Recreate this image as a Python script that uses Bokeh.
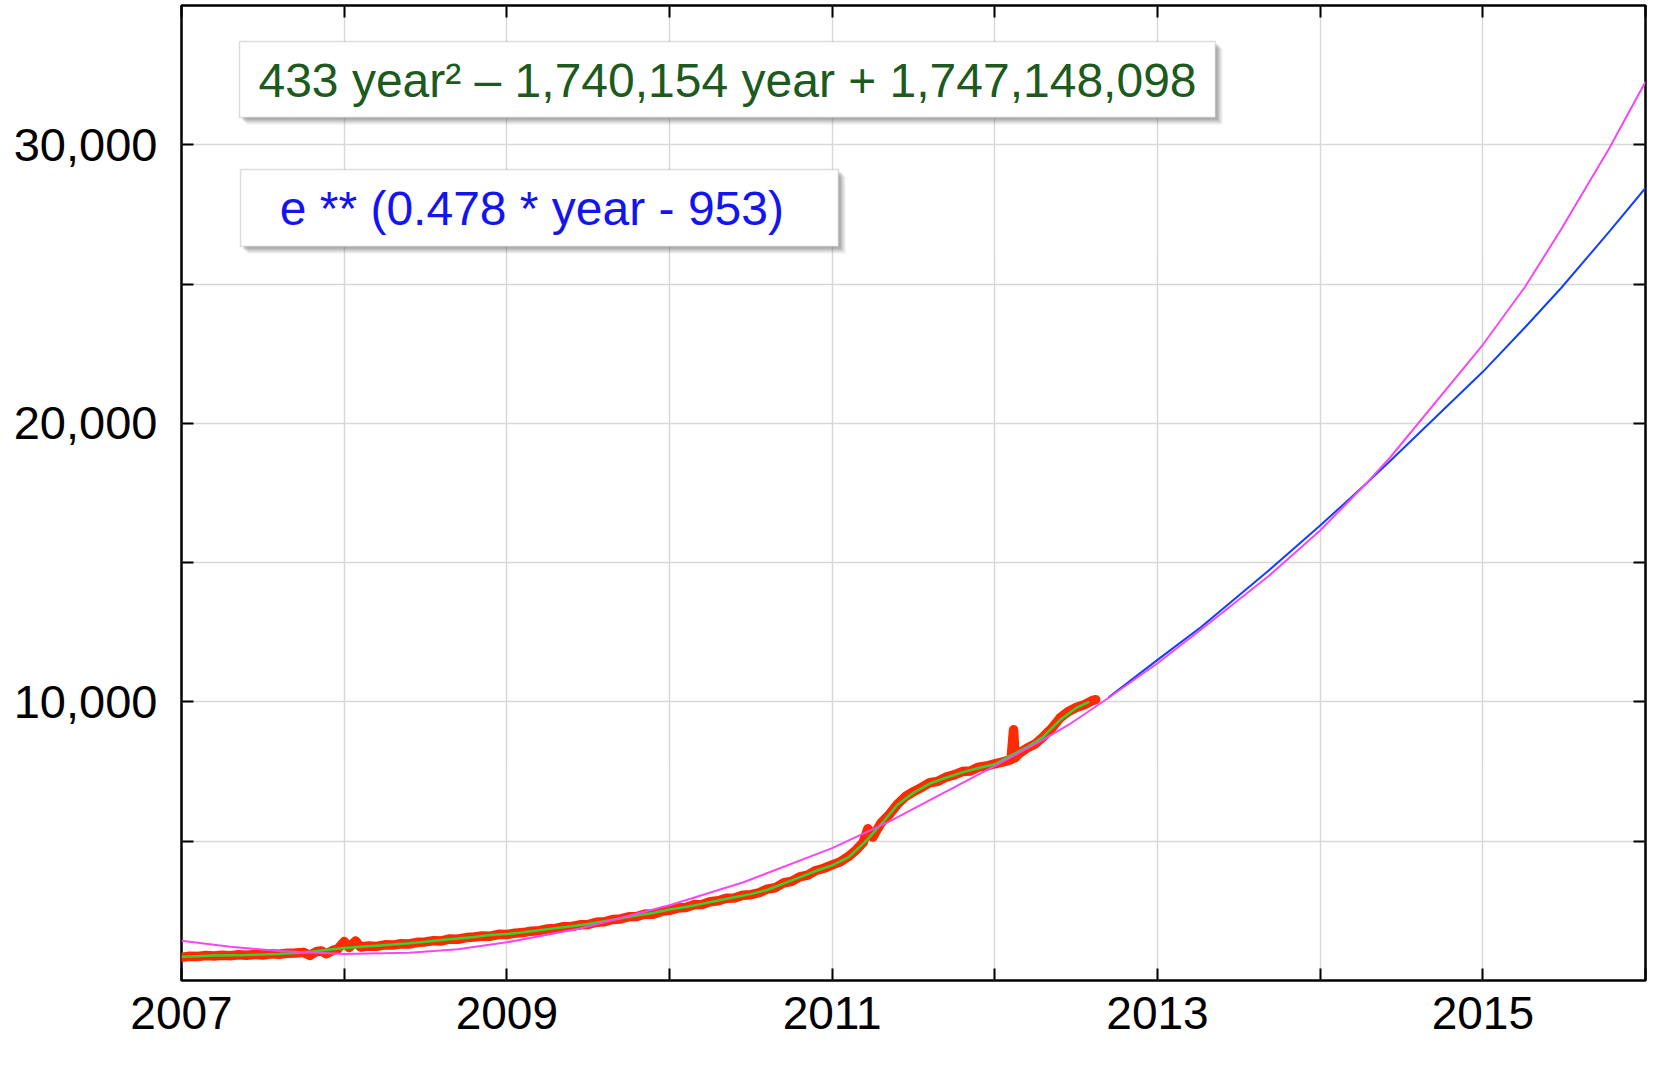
from bokeh.plotting import figure
from bokeh.models import Range1d, FixedTicker, LinearAxis, BoxAnnotation, Label
from bokeh.embed import file_html
from bokeh.resources import INLINE

# ---------------- data ----------------
red_years = [2007.00, 2007.05, 2007.10, 2007.15, 2007.20, 2007.25, 2007.30, 2007.35, 2007.40, 2007.45,
             2007.50, 2007.55, 2007.60, 2007.65, 2007.70, 2007.75, 2007.79, 2007.83, 2007.86, 2007.89,
             2007.93, 2007.96, 2008.00, 2008.03, 2008.07, 2008.10, 2008.15, 2008.20, 2008.25, 2008.30,
             2008.35, 2008.40, 2008.45, 2008.50, 2008.55, 2008.60, 2008.65, 2008.70, 2008.75, 2008.80,
             2008.85, 2008.90, 2008.95, 2009.00, 2009.05, 2009.10, 2009.15, 2009.20, 2009.25, 2009.30,
             2009.35, 2009.40, 2009.45, 2009.50, 2009.55, 2009.60, 2009.65, 2009.70, 2009.75, 2009.80,
             2009.85, 2009.90, 2009.95, 2010.00, 2010.05, 2010.10, 2010.15, 2010.20, 2010.25, 2010.30,
             2010.35, 2010.40, 2010.45, 2010.50, 2010.55, 2010.60, 2010.65, 2010.70, 2010.75, 2010.80,
             2010.85, 2010.90, 2010.95, 2011.00, 2011.05, 2011.10, 2011.15, 2011.19, 2011.22, 2011.25,
             2011.30, 2011.35, 2011.40, 2011.45, 2011.50, 2011.55, 2011.60, 2011.65, 2011.70, 2011.75,
             2011.80, 2011.85, 2011.90, 2011.95, 2012.00, 2012.05, 2012.10, 2012.115, 2012.125, 2012.15,
             2012.20, 2012.25, 2012.30, 2012.35, 2012.40, 2012.45, 2012.50, 2012.55, 2012.60, 2012.62]
red_values = [830, 870, 860, 895, 880, 905, 890, 925, 905, 935,
              915, 960, 945, 980, 985, 1010, 900, 1040, 1060, 960,
              1080, 1130, 1400, 1180, 1420, 1200, 1240, 1225, 1280, 1270,
              1320, 1310, 1370, 1385, 1430, 1420, 1490, 1480, 1540, 1560,
              1600, 1590, 1660, 1650, 1700, 1720, 1770, 1790, 1850, 1870,
              1930, 1940, 2000, 2010, 2090, 2110, 2190, 2210, 2290, 2300,
              2390, 2380, 2480, 2520, 2600, 2620, 2720, 2730, 2830, 2860,
              2950, 2960, 3060, 3080, 3150, 3280, 3330, 3500, 3560, 3720,
              3780, 3950, 4030, 4150, 4260, 4450, 4700, 4950, 5450, 5150,
              5650, 5950, 6320, 6600, 6780, 6930, 7100, 7150, 7300, 7380,
              7500, 7520, 7660, 7700, 7780, 7850, 7930, 9000, 8000, 8150,
              8350, 8500, 8760, 9050, 9420, 9650, 9800, 9900, 10050, 10080]

smooth_years = [2007.0, 2007.1, 2007.2, 2007.3, 2007.4, 2007.5, 2007.6, 2007.7, 2007.8, 2007.9,
                2008.0, 2008.1, 2008.2, 2008.3, 2008.4, 2008.5, 2008.6, 2008.7, 2008.8, 2008.9,
                2009.0, 2009.1, 2009.2, 2009.3, 2009.4, 2009.5, 2009.6, 2009.7, 2009.8, 2009.9,
                2010.0, 2010.1, 2010.2, 2010.3, 2010.4, 2010.5, 2010.6, 2010.7, 2010.8, 2010.9,
                2011.0, 2011.1, 2011.2, 2011.3, 2011.4, 2011.5, 2011.6, 2011.7, 2011.8, 2011.9,
                2012.0, 2012.1, 2012.2, 2012.3, 2012.4, 2012.5, 2012.58]
smooth_values = [850, 872, 893, 905, 917, 933, 952, 990, 1036, 1100,
                 1165, 1210, 1250, 1290, 1333, 1390, 1450, 1505, 1565, 1630,
                 1665, 1730, 1800, 1880, 1950, 2030, 2130, 2230, 2330, 2420,
                 2548, 2640, 2750, 2870, 2990, 3100, 3250, 3480, 3700, 3930,
                 4131, 4420, 4960, 5600, 6300, 6740, 7070, 7280, 7470, 7630,
                 7762, 8080, 8380, 8760, 9350, 9786, 10000]

quad_years = [2007.0, 2007.3, 2007.6, 2008.0, 2008.4, 2008.7, 2009.0, 2009.45, 2010.0, 2010.46,
              2011.0, 2011.35, 2012.0, 2012.3, 2012.46, 2012.7, 2013.0, 2013.27, 2013.68, 2014.0,
              2014.28, 2014.43, 2015.0, 2015.26, 2015.48, 2015.78, 2016.0]
quad_values = [1430, 1214, 1060, 952, 1000, 1119, 1370, 1869, 2702, 3536,
               4750, 5700, 7702, 8655, 9200, 10150, 11390, 12607, 14500, 16155,
               17821, 18774, 22821, 24904, 26950, 29904, 32264]

exp_years = [2012.7, 2013.0, 2013.27, 2013.68, 2014.0, 2014.18, 2014.28, 2014.43, 2015.0, 2015.26,
             2015.48, 2015.78, 2016.0]
exp_values = [10170, 11510, 12700, 14700, 16333, 17286, 17821, 18650, 21850, 23450,
              24850, 26900, 28450]

x_ticks = [2007, 2008, 2009, 2010, 2011, 2012, 2013, 2014, 2015, 2016]
x_tick_labels = ["2007", "", "2009", "", "2011", "", "2013", "", "2015", ""]
y_ticks = [5000, 10000, 15000, 20000, 25000, 30000]
y_tick_labels = ["", "10,000", "", "20,000", "", "30,000"]

quad_label = "433 year\u00b2 \u2013 1,740,154 year + 1,747,148,098"
exp_label = "e ** (0.478 * year  - 953)"

# ---------------- figure ----------------
FONT = "Liberation Sans"
W, H = 1647, 1051
ML, MR, MT, MB = 181, 2, 5, 71
X0, X1, Y0, Y1 = 2007, 2016, 0, 35000

p = figure(width=W, height=H, x_range=Range1d(X0, X1), y_range=Range1d(Y0, Y1),
           output_backend="svg", toolbar_location=None,
           min_border_left=ML, min_border_right=MR, min_border_top=MT, min_border_bottom=MB,
           background_fill_color="white", border_fill_color="white")

p.outline_line_color = "black"
p.outline_line_width = 2.5
p.outline_line_alpha = 1.0


def style_axis(ax, ticks, labels, font_size, standoff):
    ax.ticker = FixedTicker(ticks=ticks)
    ax.major_label_overrides = {t: s for t, s in zip(ticks, labels)}
    ax.axis_line_color = None
    ax.major_tick_in = 12
    ax.major_tick_out = 0
    ax.major_tick_line_color = "black"
    ax.major_tick_line_width = 2
    ax.minor_tick_line_color = None
    ax.major_label_text_font = FONT
    ax.major_label_text_font_size = font_size
    ax.major_label_text_color = "black"
    ax.major_label_standoff = standoff


style_axis(p.xaxis[0], x_ticks, x_tick_labels, "46px", 16)
style_axis(p.yaxis[0], y_ticks, y_tick_labels, "47px", 24)

top_axis = LinearAxis()
style_axis(top_axis, x_ticks, ["" for _ in x_ticks], "0px", 0)
p.add_layout(top_axis, "above")
right_axis = LinearAxis()
style_axis(right_axis, y_ticks, ["" for _ in y_ticks], "0px", 0)
p.add_layout(right_axis, "right")

p.xgrid.grid_line_color = "#d8d8d8"
p.xgrid.grid_line_width = 1.5
p.ygrid.grid_line_color = "#d8d8d8"
p.ygrid.grid_line_width = 1.5

# ---------------- series ----------------
p.line(red_years, red_values, line_color="#ff2a00", line_width=9.5, line_cap="round", line_join="round")
p.line(smooth_years, smooth_values, line_color="#2fd62f", line_width=2.5)
p.line(exp_years, exp_values, line_color="#1040ff", line_width=2)
p.line(quad_years, quad_values, line_color="#f548f5", line_width=2)

# ---------------- equation boxes (placed by canvas pixel) ----------------
FB = H - MB


def px_to_x(px):
    return X0 + (px - ML) * (X1 - X0) / (W - ML - MR)


def py_to_y(py):
    return Y0 + (FB - py) * (Y1 - Y0) / (FB - MT)


def add_box(left, right, top, bottom, text, cx, cy, color):
    for d, alpha in [(7, 0.12), (5, 0.2), (3, 0.28)]:
        p.add_layout(BoxAnnotation(left=px_to_x(left + d), right=px_to_x(right + d),
                                   top=py_to_y(top + d), bottom=py_to_y(bottom + d),
                                   fill_color="#666666", fill_alpha=alpha, line_color=None))
    p.add_layout(BoxAnnotation(left=px_to_x(left), right=px_to_x(right),
                               top=py_to_y(top), bottom=py_to_y(bottom),
                               fill_color="white", fill_alpha=1.0,
                               line_color="#8a8a8a", line_width=1.5))
    p.add_layout(Label(x=px_to_x(cx), y=py_to_y(cy), text=text, text_align="center",
                       text_baseline="middle", text_font=FONT, text_font_size="48px",
                       text_color=color))


add_box(239, 1215, 41, 117, quad_label, 727, 80, "#1d5a1d")
add_box(240, 838, 169, 246, exp_label, 538, 208, "#1414f0")

open("out.html", "w").write(file_html(p, INLINE))
